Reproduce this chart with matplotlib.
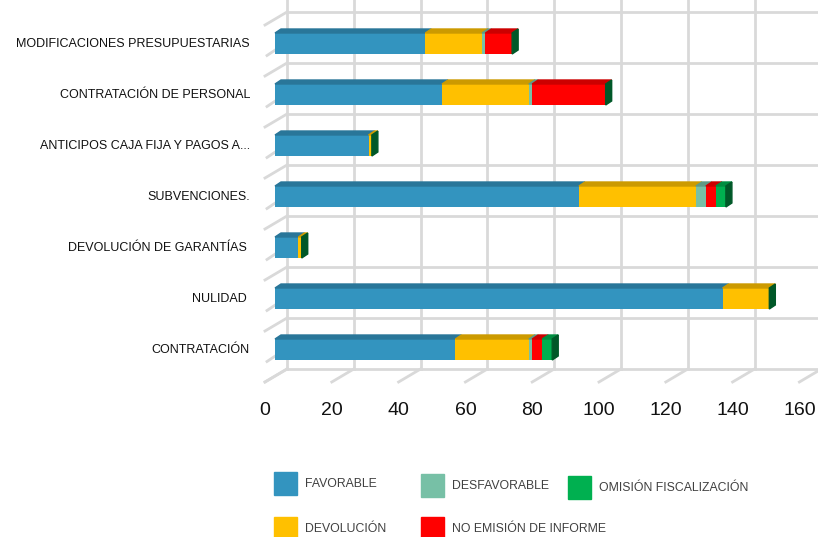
import matplotlib
matplotlib.use("Agg")
import matplotlib.pyplot as plt
from matplotlib.patches import Polygon, Rectangle
from matplotlib import colors as mcolors
import numpy as np

# datos
categorias = ["MODIFICACIONES PRESUPUESTARIAS", "CONTRATACIÓN DE PERSONAL",
              "ANTICIPOS CAJA FIJA Y PAGOS A...", "SUBVENCIONES.",
              "DEVOLUCIÓN DE GARANTÍAS ", "NULIDAD ", "CONTRATACIÓN"]
favorable = [45, 50, 28, 91, 7, 134, 54]
devolucion = [17, 26, 1, 35, 1, 14, 22]
desfavorable = [1, 1, 0, 3, 0, 0, 1]
no_emision = [8, 22, 0, 3, 0, 0, 3]
omision = [0, 0, 0, 3, 0, 0, 3]
series_nombres = ["FAVORABLE", "DEVOLUCIÓN", "DESFAVORABLE",
                  "NO EMISIÓN DE INFORME", "OMISIÓN FISCALIZACIÓN"]
series = [favorable, devolucion, desfavorable, no_emision, omision]
colores = ["#3394bf", "#ffc000", "#77c0a6", "#ff0000", "#00b050"]
ticks = [0, 20, 40, 60, 80, 100, 120, 140, 160]

W, H = 818, 537
X0, PXU = 275.0, 3.34     # pixel de x=0 y pixeles por unidad
Y0, PXC = 43.5, 51.0      # pixel del centro de la 1a barra y separacion

plt.rcParams['font.family'] = ["Liberation Sans", "DejaVu Sans"]

fig = plt.figure(figsize=(W / 100, H / 100), dpi=100)
ax = fig.add_axes([0, 0, 1, 1])
ax.set_xlim(-X0 / PXU, (W - X0) / PXU)
ax.set_ylim((H - Y0) / PXC, -Y0 / PXC)
ax.axis("off")


def dx(px):
    return px / PXU


def dy(px):
    return px / PXC


def sombra(c, f):
    r, g, b = mcolors.to_rgb(c)
    return (r * f, g * f, b * f)


grid = "#d9d9d9"
n = len(categorias)
# pared del fondo y suelo
for v in ticks:
    ax.plot([v + dx(12), v + dx(12)], [-1, n - 0.5 - dy(6)], color=grid, lw=2, zorder=0)
    ax.plot([v - dx(10), v + dx(12)], [n - 0.5 + dy(7), n - 0.5 - dy(6)], color=grid, lw=2, zorder=0)
for k in range(n + 1):
    b = k - 0.5
    ax.plot([dx(12), 175], [b - dy(6), b - dy(6)], color=grid, lw=2, zorder=0)
    ax.plot([-dx(10), dx(12)], [b + dy(7), b - dy(6)], color=grid, lw=2, zorder=0)
    if k < n:
        ax.plot([-dx(8), dx(4)], [k + dy(12), k + dy(4)], color=grid, lw=2, zorder=0)

# barras
alto = 21 / PXC
prof_x, prof_y = dx(6), dy(4)
y = np.arange(n)
izq = np.zeros(n)
for vals, c in zip(series, colores):
    vals = np.array(vals, dtype=float)
    ax.barh(y, vals, left=izq, height=alto, color=c, zorder=2)
    for i in range(n):
        if vals[i] <= 0:
            continue
        a, b = izq[i], izq[i] + vals[i]
        t = i - alto / 2
        ax.add_patch(Polygon([(a, t), (a + prof_x, t - prof_y), (b + prof_x, t - prof_y), (b, t)],
                             closed=True, color=sombra(c, 0.8), zorder=2))
    izq = izq + vals
for i in range(n):
    e = izq[i]
    t, bt = i - alto / 2, i + alto / 2
    ax.add_patch(Polygon([(e, t), (e + prof_x, t - prof_y), (e + prof_x, bt - prof_y), (e, bt)],
                         closed=True, color=sombra(colores[-1], 0.5), zorder=3))

# etiquetas
for i, cat in enumerate(categorias):
    ax.text(-dx(25), i, cat, ha="right", va="center", fontsize=9,
            color="#111111")
for v in ticks:
    ax.text(v - dx(10), (410 - Y0) / PXC, str(v), ha="center", va="center",
            fontsize=14, color="#111111")

# leyenda
pos = [(274, 472), (274, 517), (421, 474), (421, 517), (568, 476)]
for (px, py), nom, c in zip(pos, series_nombres, colores):
    fig.patches.append(Rectangle((px / W, 1 - (py + 23) / H), 23 / W, 23 / H,
                                 transform=fig.transFigure, color=c))
    fig.text((px + 31) / W, 1 - (py + 12) / H, nom, ha="left", va="center",
             fontsize=8.8, color="#404040")

fig.savefig("out.png", dpi=100)
